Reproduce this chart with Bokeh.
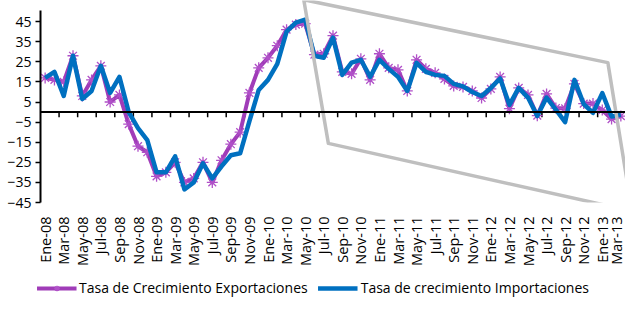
import numpy as np
from bokeh.plotting import figure
from bokeh.layouts import column
from bokeh.models import FixedTicker, Span, Legend, LegendItem, Range1d
from bokeh.embed import file_html
from bokeh.resources import INLINE

categorias = [
    "Ene-08", "Feb-08", "Mar-08", "Abr-08", "May-08", "Jun-08", "Jul-08", "Ago-08", "Sep-08", "Oct-08", "Nov-08", "Dic-08",
    "Ene-09", "Feb-09", "Mar-09", "Abr-09", "May-09", "Jun-09", "Jul-09", "Ago-09", "Sep-09", "Oct-09", "Nov-09", "Dic-09",
    "Ene-10", "Feb-10", "Mar-10", "Abr-10", "May-10", "Jun-10", "Jul-10", "Ago-10", "Sep-10", "Oct-10", "Nov-10", "Dic-10",
    "Ene-11", "Feb-11", "Mar-11", "Abr-11", "May-11", "Jun-11", "Jul-11", "Ago-11", "Sep-11", "Oct-11", "Nov-11", "Dic-11",
    "Ene-12", "Feb-12", "Mar-12", "Abr-12", "May-12", "Jun-12", "Jul-12", "Ago-12", "Sep-12", "Oct-12", "Nov-12", "Dic-12",
    "Ene-13", "Feb-13", "Mar-13",
]

exportaciones = [
    17, 16, 15, 28, 8, 16, 23, 5, 8.5, -6, -17, -20,
    -32, -30, -25, -35, -33, -25, -35, -24, -16, -10, 9.5, 22,
    27, 33, 41, 43.5, 44, 28.6, 29, 38, 20, 19, 26.5, 16,
    29, 22, 21, 10.5, 26, 21.5, 19.5, 16.5, 13, 12.5, 10.5, 7,
    11.5, 17.5, 1.7, 12, 8.5, -1.8, 9, 2, 1.8, 14, 4.2, 4.2,
    1, -3.5, -2,
]

importaciones = [
    17, 20, 8, 28, 6.5, 10.5, 23, 9.5, 17.5, 0, -8, -14,
    -30, -30, -22, -38.5, -35, -25.5, -33, -27, -21.5, -20.5, -4.5, 11,
    16, 24, 40, 44.5, 46, 28, 27, 37, 18.5, 24.6, 26, 17.5,
    26, 21.5, 17.5, 10.5, 24.5, 20, 18.5, 18, 14, 12.8, 10, 8,
    12, 16.7, 3.6, 12, 7.2, -2, 7.2, 1.2, -5, 16, 4, -0.4,
    9.4, -2.2, -1.4,
]

y_ticks = [-45, -35, -25, -15, -5, 5, 15, 25, 35, 45]

# grey annotation frame (category index, value)
marco_x = [27.85, 60.6, 63.2, 30.5]
marco_y = [55.9, 24.6, -49.3, -15.6]

x = list(range(len(categorias)))
label_idx = list(range(0, len(categorias), 2))
tick_x = [i + 1.5 for i in range(0, len(categorias) - 1, 2)]

FONT = "Open Sans"
PURPLE = "#A03CB8"
PURPLE_MARK = "#B050C8"
BLUE = "#0070C0"

p = figure(frame_width=585, frame_height=202, x_range=Range1d(-0.5, 62.5), y_range=Range1d(-45, 55.5),
           output_backend="svg", toolbar_location=None,
           min_border_left=40, min_border_right=0, min_border_top=0, min_border_bottom=68)
p.outline_line_color = None
p.xgrid.visible = False
p.ygrid.visible = False

# y axis
p.yaxis.ticker = FixedTicker(ticks=y_ticks)
p.yaxis.bounds = (-45, 50.7)
p.yaxis.axis_line_width = 2
p.yaxis.axis_line_color = "black"
p.yaxis.major_tick_out = 5
p.yaxis.major_tick_in = 0
p.yaxis.major_tick_line_width = 1.5
p.yaxis.minor_tick_out = 0
p.yaxis.minor_tick_in = 0
p.yaxis.major_label_text_font = FONT
p.yaxis.major_label_text_font_size = "14px"
p.yaxis.major_label_text_color = "black"
p.yaxis.major_label_standoff = 4

# x axis (labels only, at the bottom)
p.xaxis.ticker = FixedTicker(ticks=label_idx)
p.xaxis.major_label_overrides = {i: categorias[i] for i in label_idx}
p.xaxis.major_label_orientation = np.pi / 2
p.xaxis.axis_line_color = None
p.xaxis.major_tick_line_color = None
p.xaxis.minor_tick_line_color = None
p.xaxis.major_label_text_font = FONT
p.xaxis.major_label_text_font_size = "14.5px"
p.xaxis.major_label_text_color = "black"
p.xaxis.major_label_standoff = 8

# zero line with its tick marks
p.add_layout(Span(location=0, dimension="width", line_color="black", line_width=2))
p.segment(x0=tick_x, y0=0, x1=tick_x, y1=-2.6, line_color="black", line_width=1.5)

p.line(x, exportaciones, line_color=PURPLE, line_width=4, line_join="round")
p.scatter(x, exportaciones, marker="asterisk", size=11, line_color=PURPLE_MARK, line_width=1.3)
p.line(x, importaciones, line_color=BLUE, line_width=4.5, line_join="round")

p.patch(marco_x, marco_y, fill_alpha=0, line_color="#BFBFBF", line_width=3.5, line_join="round")

# legend strip (proxy renderers lie outside the strip's visible range)
q = figure(frame_width=625, frame_height=27, x_range=Range1d(0, 1), y_range=Range1d(0, 1),
           output_backend="svg", toolbar_location=None,
           min_border_left=0, min_border_right=0, min_border_top=0, min_border_bottom=0)
q.axis.visible = False
q.grid.visible = False
q.outline_line_color = None
proxy_x = [-3, -2]
proxy_y = [-3, -2]
l1 = q.line(proxy_x, proxy_y, line_color=PURPLE, line_width=4)
m1 = q.scatter(proxy_x, proxy_y, marker="asterisk", size=11, line_color=PURPLE_MARK, line_width=1.3)
l2 = q.line(proxy_x, proxy_y, line_color=BLUE, line_width=4.5)

legend = Legend(items=[
    LegendItem(label="Tasa de Crecimiento Exportaciones", renderers=[l1, m1]),
    LegendItem(label="Tasa de crecimiento Importaciones", renderers=[l2]),
], orientation="horizontal", location="bottom_center", glyph_width=40, glyph_height=14,
    label_standoff=3, spacing=10, padding=1, margin=0,
    border_line_color=None, background_fill_alpha=0,
    label_text_font=FONT, label_text_font_size="14px", label_text_color="black")
q.add_layout(legend, "center")

open("out.html", "w").write(file_html(column(p, q, spacing=0), INLINE))
